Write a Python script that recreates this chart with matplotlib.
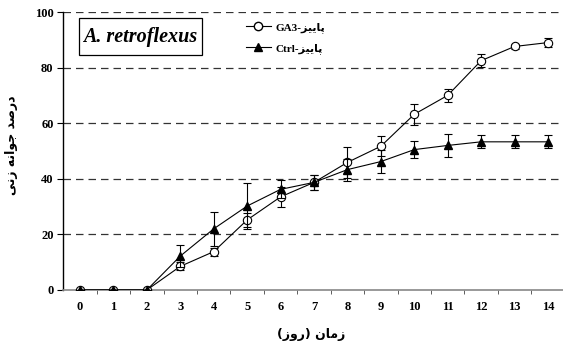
import matplotlib
matplotlib.use("Agg")
import matplotlib.pyplot as plt
from matplotlib.ticker import FixedLocator
from matplotlib.lines import Line2D
from matplotlib.patches import Rectangle

plt.rcParams['font.family'] = ['Liberation Serif', 'DejaVu Sans']

# ---- data ----
days = list(range(15))
ga3 = [0, 0, 0, 8.5, 13.8, 25.2, 33.5, 38.7, 45.9, 51.7, 63.2, 70.0, 82.5, 87.6, 89.0]
ga3_err = [0, 0, 0, 1.4, 1.4, 2.6, 3.5, 2.6, 5.5, 3.6, 3.8, 2.2, 2.4, 0.8, 1.6]
ctrl = [0, 0, 0, 12.2, 22.0, 30.2, 36.2, 38.7, 43.3, 46.2, 50.5, 52.0, 53.3, 53.3, 53.3]
ctrl_err = [0, 0, 0, 4.0, 6.0, 8.2, 3.2, 2.8, 4.0, 4.0, 3.0, 4.0, 2.4, 2.4, 2.4]
yticks = [0, 20, 40, 60, 80, 100]
species = "A. retroflexus"
season = "پاییز"
ylabel_txt = "درصد جوانه زنی"
xlabel_words = ["زمان", "روز"]

# ---- simple Persian shaping (visual order, presentation forms) ----
FORMS = {
    'ا': ('\uFE8D', '\uFE8E', None, None),
    'پ': ('\uFB56', '\uFB57', '\uFB58', '\uFB59'),
    'ی': ('\uFBFC', '\uFBFD', '\uFBFE', '\uFBFF'),
    'ز': ('\uFEAF', '\uFEB0', None, None),
    'د': ('\uFEA9', '\uFEAA', None, None),
    'ر': ('\uFEAD', '\uFEAE', None, None),
    'ص': ('\uFEB9', '\uFEBA', '\uFEBB', '\uFEBC'),
    'ج': ('\uFE9D', '\uFE9E', '\uFE9F', '\uFEA0'),
    'و': ('\uFEED', '\uFEEE', None, None),
    'ن': ('\uFEE5', '\uFEE6', '\uFEE7', '\uFEE8'),
    'ه': ('\uFEE9', '\uFEEA', '\uFEEB', '\uFEEC'),
    'م': ('\uFEE1', '\uFEE2', '\uFEE3', '\uFEE4'),
}


def dual(c):
    return c in FORMS and FORMS[c][2] is not None


def shape(s):
    out = []
    for i, c in enumerate(s):
        if c not in FORMS:
            out.append(c)
            continue
        prev_j = i > 0 and dual(s[i - 1])
        next_j = dual(c) and i + 1 < len(s) and s[i + 1] in FORMS
        iso, fin, ini, med = FORMS[c]
        if prev_j and next_j:
            g = med
        elif prev_j:
            g = fin
        elif next_j:
            g = ini
        else:
            g = iso
        out.append(g)
    return ''.join(reversed(out))


fig = plt.figure(figsize=(5.63, 3.48), dpi=100)
ax = fig.add_axes([0.1124, 0.1667, 0.8906, 0.7988])

ax.set_xlim(-0.5, 14.5)
ax.set_ylim(0, 100)

for y in yticks[1:]:
    ax.axhline(y, color='#333333', lw=0.9, ls=(0, (6, 4)), zorder=0)

ax.errorbar(days, ga3, yerr=ga3_err, color='black', lw=0.8, elinewidth=0.8,
            capsize=3, capthick=0.8, marker='o', ms=6, mfc='white', mec='black',
            mew=0.8, zorder=3)
ax.errorbar(days, ctrl, yerr=ctrl_err, color='black', lw=0.8, elinewidth=0.8,
            capsize=3, capthick=0.8, marker='^', ms=6, mfc='black', mec='black',
            zorder=4)

for s in ['top', 'right']:
    ax.spines[s].set_visible(False)
ax.spines['left'].set_linewidth(1.0)
ax.spines['bottom'].set_color('#888888')
ax.spines['bottom'].set_linewidth(1.2)

ax.set_xticks(days)
ax.xaxis.set_minor_locator(FixedLocator([d + 0.5 for d in days[:-1]]))
ax.tick_params(axis='x', which='major', length=0, pad=8)
ax.tick_params(axis='x', which='minor', length=3, direction='out', color='#444444')
ax.set_yticks(yticks)
ax.tick_params(axis='y', length=4, direction='out', pad=3)
for lab in ax.get_xticklabels() + ax.get_yticklabels():
    lab.set_fontweight('bold')
    lab.set_fontsize(9)

ax.add_patch(Rectangle((0.0313, 0.845), 0.2453, 0.133, transform=ax.transAxes,
                       fc='white', ec='black', lw=0.9, zorder=5))
ax.text(0.154, 0.911, species, transform=ax.transAxes, ha='center', va='center',
        fontsize=14.5, fontweight='bold', fontstyle='italic', zorder=6)

handles = [
    Line2D([], [], color='black', lw=0.8, marker='o', ms=6, mfc='white', mec='black'),
    Line2D([], [], color='black', lw=0.8, marker='^', ms=6, mfc='black', mec='black'),
]
labels = ["GA3-" + shape(season), "Ctrl-" + shape(season)]
ax.legend(handles, labels, loc='upper left', bbox_to_anchor=(0.345, 1.0),
          frameon=False, handlelength=2.2, handletextpad=0.4,
          labelspacing=0.9, prop={'weight': 'bold', 'size': 8})

ax.set_ylabel(shape(ylabel_txt), fontsize=9, fontweight='bold',
              family=['DejaVu Sans'])
ax.yaxis.set_label_coords(-0.09, 0.52)
xl = "(" + shape(xlabel_words[1]) + ") " + shape(xlabel_words[0])
ax.set_xlabel(xl, fontsize=9, fontweight='bold', family=['DejaVu Sans'])
ax.xaxis.set_label_coords(0.495, -0.135)

fig.savefig('out.png', dpi=100)
